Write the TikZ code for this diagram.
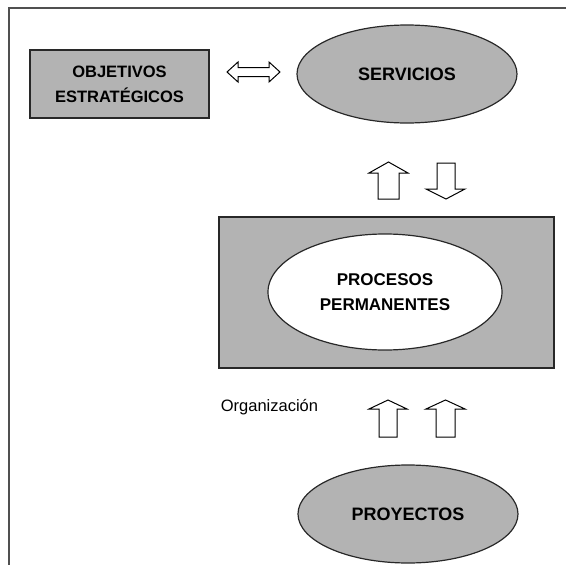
\documentclass[tikz,border=0pt]{standalone}
\usepackage{fontspec}
\setmainfont{Liberation Sans}
\usetikzlibrary{shapes.geometric}
\definecolor{fillgray}{RGB}{179,179,179}
\definecolor{edgegray}{RGB}{40,40,40}
\definecolor{framegray}{RGB}{80,80,80}
\begin{document}
\begin{tikzpicture}[x=1pt,y=-1pt,
  lbl/.style={font=\fontsize{18}{24}\selectfont\bfseries, align=center, text=black},
  gbox/.style={draw=edgegray, line width=1.2pt, fill=fillgray, inner sep=0pt, lbl},
  gell/.style={ellipse, draw=edgegray, line width=1.2pt, fill=fillgray, inner sep=0pt, lbl},
  wella/.style={ellipse, draw=edgegray, line width=1.2pt, fill=white, inner sep=0pt, lbl},
  blockarrow/.style={draw=black, line width=1pt, fill=white, line join=miter},
  framestyle/.style={draw=framegray, line width=1.5pt}
]
\useasboundingbox (0,0) rectangle (566,565);
% frame
\draw[framestyle] (9,565) -- (9,8) -- (566,8);
% nodes
\node[gbox, minimum width=179pt, minimum height=68pt, font=\fontsize{16.5}{25}\selectfont\bfseries] (obj) at (119.5,84) {OBJETIVOS\\ESTRATÉGICOS};
\node[gell, minimum width=220pt, minimum height=98pt] (serv) at (407,74) {SERVICIOS};
\node[gbox, minimum width=335pt, minimum height=151pt] (proc) at (386.5,292.5) {};
\node[wella, minimum width=234pt, minimum height=116pt, font=\fontsize{17}{25}\selectfont\bfseries] (perm) at (385,292) {PROCESOS\\PERMANENTES};
\node[font=\fontsize{16.5}{20}\selectfont, anchor=center] (org) at (269.5,407) {Organización};
\node[gell, minimum width=220pt, minimum height=98pt] (proy) at (408,514) {PROYECTOS};
% double arrow between objectives and services
\draw[blockarrow] (227,72) -- (238,62) -- (238,67.5) -- (269,67.5) -- (269,62) -- (280,72)
  -- (269,82) -- (269,76.5) -- (238,76.5) -- (238,82) -- cycle;
% up arrow (processes -> services)
\draw[blockarrow] (388.5,162) -- (408,173) -- (399,173) -- (399,199) -- (378,199) -- (378,173) -- (369,173) -- cycle;
% down arrow (services -> processes)
\draw[blockarrow] (446,199) -- (465,189) -- (455,189) -- (455,163) -- (437,163) -- (437,189) -- (426,189) -- cycle;
% lower up arrows (projects -> processes)
\draw[blockarrow] (388,400) -- (407,409) -- (397,409) -- (397,437) -- (379,437) -- (379,409) -- (369,409) -- cycle;
\draw[blockarrow] (445.5,400) -- (465,409) -- (455,409) -- (455,437) -- (436,437) -- (436,409) -- (426,409) -- cycle;
\end{tikzpicture}
\end{document}
